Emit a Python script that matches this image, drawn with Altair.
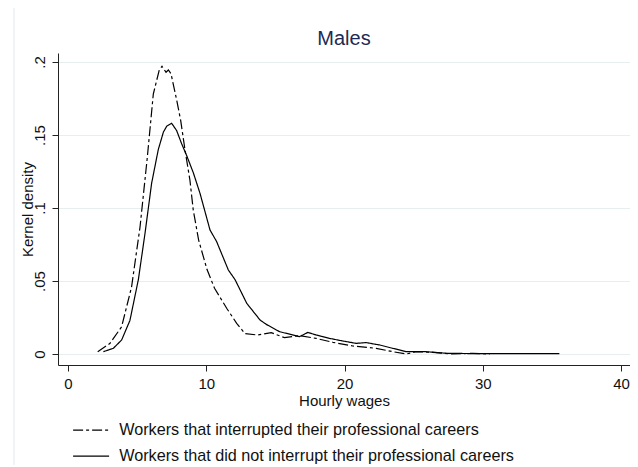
import altair as alt
import pandas as pd

# Kernel density of hourly wages
interrupted_x = [2.15, 3.04, 3.88, 4.6, 5.21, 5.74, 6.17, 6.6, 6.8, 7.09, 7.26, 7.45, 7.86,
                 8.15, 8.46, 8.82, 9.06, 9.45, 10.05, 10.6, 11.5, 12.2, 12.8, 13.7, 14.7,
                 15.66, 16.75, 17.95, 19.16, 20.6, 22.29, 23.49, 24.46, 25.18, 26.39,
                 27.83, 29.28, 30.5]
interrupted_y = [0.0016, 0.0073, 0.0187, 0.046, 0.087, 0.135, 0.178, 0.1945, 0.197, 0.193,
                 0.1945, 0.192, 0.174, 0.160, 0.140, 0.119, 0.0986, 0.078, 0.058, 0.045,
                 0.031, 0.021, 0.014, 0.013, 0.0146, 0.0112, 0.0126, 0.0107, 0.008, 0.0055,
                 0.0039, 0.0016, 0.0, 0.0016, 0.0011, 0.0, 0.0005, 0.0]

continuous_x = [2.56, 3.28, 3.88, 4.48, 5.09, 5.57, 6.05, 6.53, 6.9, 7.14, 7.5, 7.86, 8.22,
                8.58, 9.07, 9.55, 10.27, 10.75, 11.6, 12.08, 12.93, 13.89, 14.34, 15.3,
                16.75, 17.35, 17.95, 18.92, 19.88, 20.84, 21.57, 22.53, 23.49, 24.46, 25.9,
                27.35, 30.0, 35.54]
continuous_y = [0.0016, 0.0039, 0.0096, 0.023, 0.051, 0.0826, 0.117, 0.140, 0.152, 0.156,
                0.158, 0.153, 0.144, 0.136, 0.124, 0.110, 0.085, 0.077, 0.0575, 0.051,
                0.0347, 0.0233, 0.0203, 0.0153, 0.0119, 0.0148, 0.013, 0.0107, 0.0089,
                0.0073, 0.0078, 0.0062, 0.0039, 0.0016, 0.0016, 0.0005, 0.0002, 0.0002]

series_names = ["Workers that interrupted their professional careers",
                "Workers that did not interrupt their professional careers"]
x_ticks = [0, 10, 20, 30, 40]
y_ticks = [0, 0.05, 0.1, 0.15, 0.2]

rows = []
for xv, yv in zip(interrupted_x, interrupted_y):
    rows.append({"wage": xv, "density": yv, "series": series_names[0]})
for xv, yv in zip(continuous_x, continuous_y):
    rows.append({"wage": xv, "density": yv, "series": series_names[1]})
df = pd.DataFrame(rows)

FONT = "Liberation Sans"
INK = "#222222"

frame = alt.Chart(alt.Data(values=[{"k": 1}])).mark_rect(
    fillOpacity=0, stroke="#e4eaee", strokeWidth=1, clip=False
).encode(
    x=alt.value(-44), x2=alt.value(640), y=alt.value(-46), y2=alt.value(430)
)

lines = alt.Chart(df).mark_line(color="black", strokeWidth=1.2).encode(
    x=alt.X(
        "wage:Q",
        scale=alt.Scale(domain=[-0.723, 40.65], nice=False, zero=False),
        axis=alt.Axis(
            values=x_ticks, title="Hourly wages", grid=False, tickSize=6,
            labelPadding=5, labelFontSize=15, titleFontSize=15,
            titleY=40, titleBaseline="alphabetic", titleFontWeight="normal",
        ),
    ),
    y=alt.Y(
        "density:Q",
        scale=alt.Scale(domain=[-0.00753, 0.20616], nice=False, zero=False),
        axis=alt.Axis(
            values=y_ticks, title="Kernel density", grid=True, tickSize=6,
            labelAngle=270, labelAlign="center", labelBaseline="alphabetic",
            labelPadding=8, labelFontSize=15,
            labelExpr="replace(format(datum.value, '~g'), '0.', '.')",
            titleX=-26, titleY=156, titleAngle=270, titleAlign="center",
            titleBaseline="alphabetic", titleFontSize=15, titleFontWeight="normal",
        ),
    ),
    strokeDash=alt.StrokeDash(
        "series:N",
        sort=series_names,
        scale=alt.Scale(domain=series_names, range=[[10, 3, 3, 3], [1, 0]]),
        legend=alt.Legend(
            title=None, orient="none", legendX=25, legendY=369, direction="vertical",
            symbolType="M-3,0H3", symbolSize=144, symbolStrokeWidth=1.3,
            symbolStrokeColor="black", labelFontSize=16.2, labelFont=FONT,
            labelOffset=20, rowPadding=9, padding=0, labelColor="#111111",
            labelLimit=600,
        ),
    ),
)

chart = alt.layer(frame, lines).properties(
    width=572,
    height=312,
    autosize=alt.AutoSizeParams(type="none"),
    padding={"left": 50, "top": 45, "right": 0, "bottom": 100},
    background="white",
    title=alt.TitleParams(
        "Males", fontSize=20, font=FONT, fontWeight="normal", color="#1c2a55",
        anchor="middle", baseline="alphabetic", offset=8, dy=66,
    ),
).configure_view(
    stroke=None
).configure_axis(
    labelFont=FONT, titleFont=FONT, domainColor=INK, tickColor=INK,
    labelColor="#111111", titleColor="#111111", gridColor="#e6eef0",
    domainWidth=1, tickWidth=1,
)

chart.save("out.html", embed_options={"renderer": "svg", "actions": False})
